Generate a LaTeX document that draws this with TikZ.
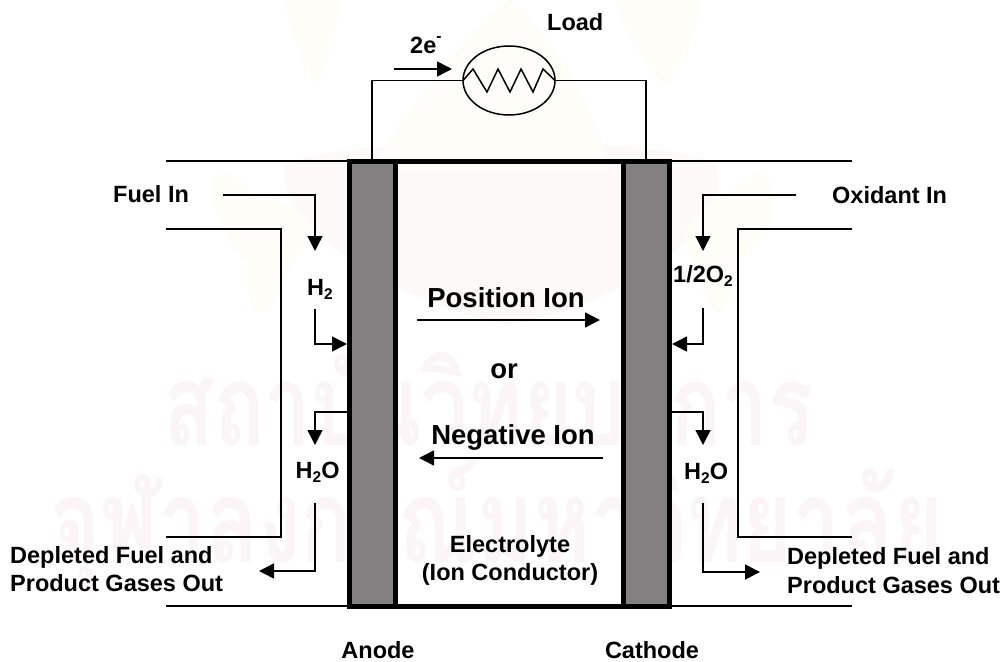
\documentclass[tikz,border=0pt]{standalone}
\usepackage{fontspec}
\setmainfont{Liberation Sans}
\newfontfamily\thaifont[Script=Thai]{Loma}
\usetikzlibrary{arrows.meta,shapes.geometric}
\newcommand{\lblfont}{\fontsize{23.5}{29}\selectfont\bfseries}
\newcommand{\lgfont}{\fontsize{27.5}{32}\selectfont\bfseries}
\newcommand{\subn}[1]{\raisebox{-0.2em}{\fontsize{15.5}{15.5}\selectfont #1}}
\newcommand{\supn}[1]{\raisebox{0.52em}{\fontsize{15.5}{15.5}\selectfont #1}}
\definecolor{wmpink}{HTML}{FCF5F8}
\definecolor{wmcream}{HTML}{FEFDF8}
\definecolor{wmrose}{HTML}{FEF9F9}
\definecolor{elec}{HTML}{828080}
\tikzset{
  txt/.style={anchor=base west,inner sep=0pt,font=\lblfont,text=black},
  txtc/.style={anchor=base,inner sep=0pt,align=center,font=\lblfont,text=black},
  bigt/.style={anchor=base,inner sep=0pt,font=\lgfont,text=black},
  wire/.style={line width=1.5pt,black,line join=miter},
  flow/.style={wire,-{Triangle[length=15pt,width=15pt]}},
  electrode/.style={draw=black,fill=elec,line width=5pt},
  wmark/.style={anchor=base west,inner sep=0pt,text=wmpink}
}
\begin{document}
\begin{tikzpicture}[x=1pt,y=-1pt]
\useasboundingbox (0,0) rectangle (1008,661);
\fill[white] (0,0) rectangle (1008,661);
% faint emblem
\fill[wmrose] (285,165) .. controls (340,135) and (680,135) .. (715,165) .. controls (740,215) and (640,300) .. (510,325) .. controls (380,300) and (270,215) .. (285,165) -- cycle;
\fill[wmcream] (370,170) .. controls (420,90) and (490,10) .. (510,0) .. controls (530,10) and (590,90) .. (611,170) -- cycle;
\fill[wmcream] (285,0) -- (340,0) .. controls (335,40) and (325,70) .. (315,85) .. controls (300,60) and (290,30) .. (285,0) -- cycle;
\fill[wmcream] (615,0) -- (700,0) .. controls (695,40) and (680,70) .. (665,85) .. controls (640,60) and (625,30) .. (615,0) -- cycle;
\fill[wmcream] (212,180) .. controls (225,165) and (245,180) .. (250,195) .. controls (300,205) and (330,225) .. (300,255) .. controls (285,265) and (280,305) .. (265,310) .. controls (250,320) and (245,290) .. (248,262) .. controls (225,240) and (210,210) .. (212,180) -- cycle;
\fill[wmcream] (745,180) .. controls (760,165) and (775,175) .. (772,205) .. controls (770,240) and (745,260) .. (735,262) .. controls (735,290) and (725,320) .. (715,310) .. controls (700,300) and (700,270) .. (690,255) .. controls (670,225) and (710,205) .. (745,180) -- cycle;
% watermark text
\node[wmark] (wm1) at (163,445) {\scalebox{1}[1.36]{\resizebox{650pt}{!}{\thaifont\bfseries\fontsize{100}{120}\selectfont สถาบันวิทยบริการ}}};
\node[wmark] (wm2) at (50,562) {\scalebox{1}[1.36]{\resizebox{893pt}{!}{\thaifont\bfseries\fontsize{100}{120}\selectfont จุฬาลงกรณ์มหาวิทยาลัย}}};
% housing lines
\coordinate (tl) at (166,161); \coordinate (tr) at (852,161);
\coordinate (bl) at (166,606); \coordinate (br) at (852,606);
\draw[wire] (tl) -- (tr);
\draw[wire] (bl) -- (br);
\coordinate (al1) at (166,229); \coordinate (al2) at (281,229); \coordinate (al3) at (281,537); \coordinate (al4) at (166,537);
\draw[wire] (al1) -- (al2) -- (al3) -- (al4);
\coordinate (cl1) at (852,229); \coordinate (cl2) at (738,229); \coordinate (cl3) at (738,537); \coordinate (cl4) at (852,537);
\draw[wire] (cl1) -- (cl2) -- (cl3) -- (cl4);
% electrodes and cell
\draw[electrode] (349.5,161) rectangle (395.5,606);
\draw[electrode] (623.5,161) rectangle (669.5,606);
\draw[draw=black,line width=5pt] (349.5,161) -- (669.5,161);
\draw[draw=black,line width=5pt] (349.5,606) -- (669.5,606);
% load
\node[draw=black,line width=1.5pt,ellipse,minimum width=92pt,minimum height=69pt,inner sep=0pt,outer sep=0pt] (load) at (509,80.5) {};
\coordinate (wl1) at (372,159); \coordinate (wl2) at (372,80.5);
\coordinate (wr1) at (646,159); \coordinate (wr2) at (646,80.5);
\draw[wire] (wl1) -- (wl2) -- (load.west);
\draw[wire] (wr1) -- (wr2) -- (load.east);
\draw[wire] (load.west) -- (473,69) -- (487,92) -- (498,69) -- (510,92) -- (521,69) -- (533,92) -- (543,69) -- (load.east);
\coordinate (ea) at (394,69); \coordinate (eb) at (452,69);
\draw[flow] (ea) -- (eb);
\node[txt] (etxt) at (410,54) {2e\supn{-}};
\node[txt] (loadt) at (547,31) {Load};
% fuel side
\node[txt] (fuel) at (113,202) {Fuel In};
\coordinate (f1) at (223,195); \coordinate (f2) at (315,195); \coordinate (f3) at (315,251);
\draw[flow] (f1) -- (f2) -- (f3);
\node[txt] (h2) at (307,295) {H\subn{2}};
\coordinate (h1) at (315,309); \coordinate (h2b) at (315,344); \coordinate (h3) at (347,344);
\draw[flow] (h1) -- (h2b) -- (h3);
\coordinate (x1) at (347,412); \coordinate (x2) at (315,412); \coordinate (x3) at (315,445);
\draw[flow] (x1) -- (x2) -- (x3);
\node[txt] (h2ol) at (295.5,478) {H\subn{2}O};
\coordinate (d1) at (315,503); \coordinate (d2) at (315,571); \coordinate (d3) at (259,571);
\draw[flow] (d1) -- (d2) -- (d3);
\node[txt] (depl1) at (10,563) {Depleted Fuel and};
\node[txt] (depl2) at (10,591) {Product Gases Out};
% oxidant side
\node[txt] (oxi) at (832,203) {Oxidant In};
\coordinate (o1) at (796,195); \coordinate (o2) at (703,195); \coordinate (o3) at (703,251);
\draw[flow] (o1) -- (o2) -- (o3);
\node[txt] (o2t) at (673,282) {1/2O\subn{2}};
\coordinate (p1) at (703,308); \coordinate (p2) at (703,344); \coordinate (p3) at (672,344);
\draw[flow] (p1) -- (p2) -- (p3);
\coordinate (y1) at (672,412); \coordinate (y2) at (703,412); \coordinate (y3) at (703,445);
\draw[flow] (y1) -- (y2) -- (y3);
\node[txt] (h2or) at (684,479) {H\subn{2}O};
\coordinate (e1) at (703,503); \coordinate (e2) at (703,572); \coordinate (e3) at (760,572);
\draw[flow] (e1) -- (e2) -- (e3);
\node[txt] (depr1) at (787,564) {Depleted Fuel and};
\node[txt] (depr2) at (787,593) {Product Gases Out};
% ions
\node[bigt] (pos) at (506,307) {Position Ion};
\coordinate (pa) at (417,320); \coordinate (pb) at (600,320);
\draw[flow] (pa) -- (pb);
\node[bigt] (ort) at (504,378) {or};
\node[bigt] (neg) at (513,444) {Negative Ion};
\coordinate (na) at (603,458); \coordinate (nb) at (419,458);
\draw[flow] (na) -- (nb);
\node[txtc] (ely1) at (510,552) {Electrolyte};
\node[txtc] (ely2) at (510,580) {(Ion Conductor)};
\node[txtc] (an) at (378,658.5) {Anode};
\node[txtc] (ca) at (652,658.5) {Cathode};
\end{tikzpicture}
\end{document}
